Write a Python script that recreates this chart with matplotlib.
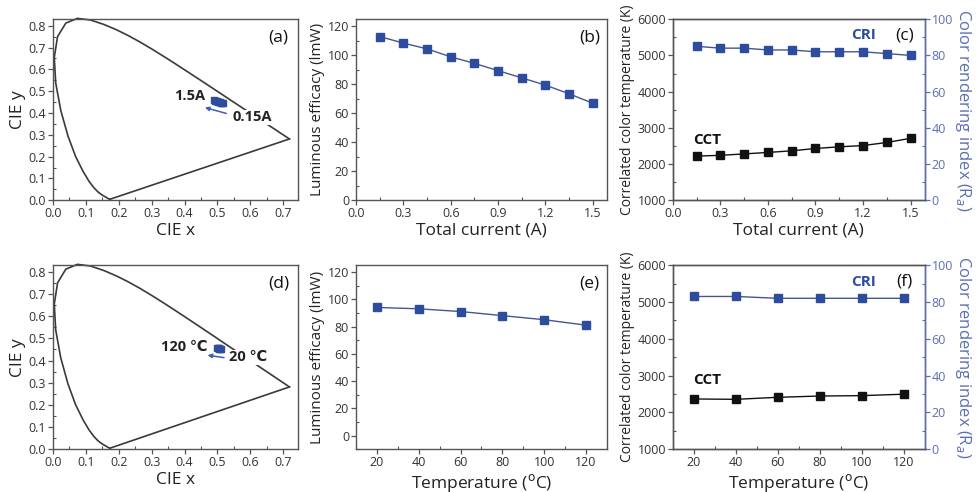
import numpy as np
import matplotlib
matplotlib.use("Agg")
import matplotlib.pyplot as plt
from matplotlib.ticker import MultipleLocator

plt.rcParams['font.family'] = ['Open Sans', 'DejaVu Sans']

# CIE 1931 spectral locus, 380-640 nm in 5 nm steps
locus_x = [0.1741, 0.1740, 0.1738, 0.1736, 0.1733, 0.1730, 0.1726, 0.1721, 0.1714,
           0.1703, 0.1689, 0.1669, 0.1644, 0.1611, 0.1566, 0.1510, 0.1440, 0.1355,
           0.1241, 0.1096, 0.0913, 0.0687, 0.0454, 0.0235, 0.0082, 0.0039, 0.0139,
           0.0389, 0.0743, 0.1142, 0.1547, 0.1929, 0.2296, 0.2658, 0.3016, 0.3373,
           0.3731, 0.4087, 0.4441, 0.4788, 0.5125, 0.5448, 0.5752, 0.6029, 0.6270,
           0.6482, 0.6658, 0.6801, 0.6915, 0.7006, 0.7079, 0.7140, 0.7190]
locus_y = [0.0050, 0.0050, 0.0049, 0.0049, 0.0048, 0.0048, 0.0048, 0.0048, 0.0051,
           0.0058, 0.0069, 0.0086, 0.0109, 0.0138, 0.0177, 0.0227, 0.0297, 0.0399,
           0.0578, 0.0868, 0.1327, 0.2007, 0.2950, 0.4127, 0.5384, 0.6548, 0.7502,
           0.8120, 0.8338, 0.8262, 0.8059, 0.7816, 0.7543, 0.7243, 0.6923, 0.6589,
           0.6245, 0.5896, 0.5547, 0.5202, 0.4866, 0.4544, 0.4242, 0.3965, 0.3725,
           0.3514, 0.3340, 0.3197, 0.3083, 0.2993, 0.2920, 0.2859, 0.2809]

# chromaticity of the LED vs. current (a) and temperature (d)
cie_x_cur = [0.516, 0.513, 0.510, 0.507, 0.504, 0.501, 0.498, 0.495, 0.492, 0.489]
cie_y_cur = [0.445, 0.446, 0.448, 0.449, 0.451, 0.452, 0.454, 0.455, 0.457, 0.458]
cie_x_tmp = [0.510, 0.508, 0.506, 0.504, 0.502, 0.500]
cie_y_tmp = [0.453, 0.454, 0.454, 0.455, 0.455, 0.456]

current = [0.15, 0.30, 0.45, 0.60, 0.75, 0.90, 1.05, 1.20, 1.35, 1.50]
eff_cur = [113, 108.5, 104.5, 99, 94.5, 89.5, 84.5, 79.5, 73.5, 67]
cct_cur = [2220, 2240, 2280, 2320, 2365, 2430, 2475, 2510, 2595, 2710]
cri_cur = [85, 84, 84, 83, 83, 82, 82, 82, 81, 80]

temp = [20, 40, 60, 80, 100, 120]
eff_tmp = [94, 93, 91, 88, 85, 81]
cct_tmp = [2365, 2355, 2410, 2445, 2455, 2495]
cri_tmp = [83, 83, 82, 82, 82, 82]

BLUE = '#2e4c9e'
BLUE_AX = '#5b6fb2'
LINE_B = '#44578f'
GRAY = '#555555'
TXT = '#333333'

fig = plt.figure(figsize=(9.76, 4.92), dpi=100)

rows = [(0.593, 0.368), (0.087, 0.374)]
cols = [(0.0543, 0.251), (0.3648, 0.257), (0.6895, 0.258)]


def style(ax):
    for s in ax.spines.values():
        s.set_color(GRAY)
        s.set_linewidth(1.0)
    ax.tick_params(which='major', direction='out', length=3.5, width=0.9,
                   colors=GRAY, labelcolor=TXT, labelsize=9, pad=1.5)
    ax.tick_params(which='minor', direction='in', length=2, width=0.8, colors=GRAY)


def cie_panel(ax, px, py, lbl_hi, lbl_lo, hi_pos, lo_pos, arr, tag):
    ax.plot(locus_x, locus_y, color='#3a3a3a', lw=1.2, clip_on=False,
            solid_joinstyle='round')
    ax.plot([locus_x[-1], locus_x[0]], [locus_y[-1], locus_y[0]], color='#3a3a3a', lw=1.2)
    ax.plot(px, py, 's', color=BLUE, ms=4.5, mec=BLUE, zorder=5)
    ax.annotate('', xy=arr[0], xytext=arr[1],
                arrowprops=dict(arrowstyle='-|>', color='#3f5fb5', lw=1.1,
                                mutation_scale=6, shrinkA=0, shrinkB=0))
    ax.text(hi_pos[0], hi_pos[1], lbl_hi, ha='right', va='center', fontsize=10.5,
            fontweight='bold', color='#222222')
    ax.text(lo_pos[0], lo_pos[1], lbl_lo, ha='left', va='center', fontsize=10.5,
            fontweight='bold', color='#222222',
            bbox=dict(facecolor='white', edgecolor='none', pad=0.5), zorder=6)
    ax.set_xlim(0, 0.745)
    ax.set_ylim(0, 0.83)
    ax.xaxis.set_major_locator(MultipleLocator(0.1))
    ax.xaxis.set_minor_locator(MultipleLocator(0.05))
    ax.yaxis.set_major_locator(MultipleLocator(0.1))
    ax.yaxis.set_minor_locator(MultipleLocator(0.05))
    ax.xaxis.set_major_formatter(lambda v, p: f'{v:.1f}')
    ax.yaxis.set_major_formatter(lambda v, p: f'{v:.1f}')
    ax.set_xlabel('CIE x', fontsize=12.5, color='#222222', labelpad=2)
    ax.set_ylabel('CIE y', fontsize=12.5, color='#222222', labelpad=2)
    ax.text(0.92, 0.90, tag, transform=ax.transAxes, ha='center', va='center',
            fontsize=12.5, color='#111111')
    style(ax)


def eff_panel(ax, x, y, xlim, xmaj, xmin, ylim, xlabel, tag):
    ax.plot(x, y, '-', color=LINE_B, lw=1.0)
    ax.plot(x, y, 's', color=BLUE, ms=5.5)
    ax.set_xlim(*xlim)
    ax.set_ylim(*ylim)
    ax.xaxis.set_major_locator(MultipleLocator(xmaj))
    ax.xaxis.set_minor_locator(MultipleLocator(xmin))
    ax.yaxis.set_major_locator(MultipleLocator(20))
    ax.yaxis.set_minor_locator(MultipleLocator(10))
    ax.set_xlabel(xlabel, fontsize=12.5, color='#222222', labelpad=2)
    ax.set_ylabel('Luminous efficacy (lmW)', fontsize=11, color='#222222', labelpad=2)
    ax.text(0.93, 0.90, tag, transform=ax.transAxes, ha='center', va='center',
            fontsize=12.5, color='#111111')
    style(ax)


def cct_panel(ax, x, cct, cri, xlim, xmaj, xmin, xlabel, tag, cct_y):
    ax.plot(x, cct, '-s', color='#111111', lw=1.0, ms=5.5)
    ax.set_xlim(*xlim)
    ax.set_ylim(1000, 6000)
    ax.xaxis.set_major_locator(MultipleLocator(xmaj))
    ax.xaxis.set_minor_locator(MultipleLocator(xmin))
    ax.yaxis.set_major_locator(MultipleLocator(1000))
    ax.yaxis.set_minor_locator(MultipleLocator(500))
    ax.set_xlabel(xlabel, fontsize=12.5, color='#222222', labelpad=2)
    ax.set_ylabel('Correlated color temperature (K)', fontsize=10, color='#222222', labelpad=2)
    style(ax)
    ax2 = ax.twinx()
    ax2.plot(x, cri, '-', color=LINE_B, lw=1.0)
    ax2.plot(x, cri, 's', color=BLUE, ms=5.5)
    ax2.set_ylim(0, 100)
    ax2.yaxis.set_major_locator(MultipleLocator(20))
    ax2.yaxis.set_minor_locator(MultipleLocator(10))
    style(ax2)
    ax2.spines['right'].set_color(BLUE_AX)
    ax2.tick_params(axis='y', which='both', colors=BLUE_AX, labelcolor=BLUE_AX)
    ax2.set_ylabel('Color rendering index (R$_a$)', fontsize=12, color=BLUE_AX,
                   rotation=270, labelpad=14)
    ax.text(0.135, cct_y, 'CCT', transform=ax.transAxes, ha='center', va='center',
            fontsize=11, fontweight='bold', color='#111111')
    ax.text(0.755, 0.91, 'CRI', transform=ax.transAxes, ha='center', va='center',
            fontsize=11, fontweight='bold', color=BLUE)
    ax.text(0.92, 0.91, tag, transform=ax.transAxes, ha='center', va='center',
            fontsize=12.5, color='#111111')


temp_label = r'Temperature ($^{\mathrm{o}}$C)'

axa = fig.add_axes([cols[0][0], rows[0][0], cols[0][1], rows[0][1]])
cie_panel(axa, cie_x_cur, cie_y_cur, '1.5A', '0.15A', (0.462, 0.479), (0.545, 0.380),
          ((0.462, 0.425), (0.527, 0.398)), '(a)')

axb = fig.add_axes([cols[1][0], rows[0][0], cols[1][1], rows[0][1]])
eff_panel(axb, current, eff_cur, (0, 1.59), 0.3, 0.15, (0, 125), 'Total current (A)', '(b)')

axc = fig.add_axes([cols[2][0], rows[0][0], cols[2][1], rows[0][1]])
cct_panel(axc, current, cct_cur, cri_cur, (0, 1.59), 0.3, 0.15, 'Total current (A)', '(c)', 0.33)

axd = fig.add_axes([cols[0][0], rows[1][0], cols[0][1], rows[1][1]])
cie_panel(axd, cie_x_tmp, cie_y_tmp, '120 \u2103', '20 \u2103', (0.470, 0.459), (0.535, 0.414),
          ((0.470, 0.424), (0.520, 0.413)), '(d)')

axe = fig.add_axes([cols[1][0], rows[1][0], cols[1][1], rows[1][1]])
eff_panel(axe, temp, eff_tmp, (10, 130), 20, 10, (-10, 125), temp_label, '(e)')

axf = fig.add_axes([cols[2][0], rows[1][0], cols[2][1], rows[1][1]])
cct_panel(axf, temp, cct_tmp, cri_tmp, (10, 130), 20, 10, temp_label, '(f)', 0.375)

fig.savefig('out.png', dpi=100, facecolor='white')
